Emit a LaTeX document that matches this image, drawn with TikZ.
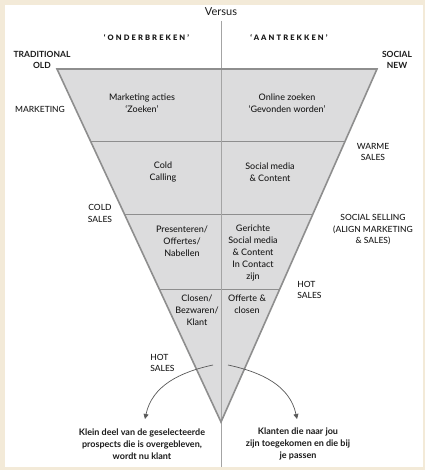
\documentclass[tikz,border=0pt]{standalone}
\usepackage{fontspec}
\setmainfont{Lato}
\newfontfamily\lmed{Lato Medium}
\newfontfamily\lhead{Lato Black}[LetterSpace=28]
\usetikzlibrary{calc,arrows.meta}
\definecolor{beige}{HTML}{F3EAD8}
\definecolor{fillgray}{HTML}{DCDCDD}
\definecolor{edgegray}{HTML}{8E8E8E}
\definecolor{txt}{HTML}{1A1A1A}
\tikzset{
  body/.style={align=center,font=\lmed\fontsize{9}{12}\selectfont,text=txt,inner sep=0pt},
  side/.style={align=center,font=\lmed\fontsize{8.5}{11.5}\selectfont,text=txt,inner sep=0pt},
  sideb/.style={align=center,font=\bfseries\fontsize{8.5}{11.5}\selectfont,text=txt,inner sep=0pt},
  head/.style={font=\lhead\fontsize{7.5}{9}\selectfont,text=txt,inner sep=0pt},
  bottom/.style={align=center,font=\bfseries\fontsize{9}{12}\selectfont,text=txt,inner sep=0pt},
  divider/.style={draw=edgegray,line width=1pt},
  curvearrow/.style={draw=black!65,line width=0.7pt,-{Triangle[length=5pt,width=5pt]}},
}
\begin{document}
\begin{tikzpicture}[x=1pt,y=-1pt]
\useasboundingbox (0,0) rectangle (425,470);
\fill[beige] (0,0) rectangle (425,470);
\fill[white] (5,5) rectangle (423,467);
% funnel
\coordinate (TL) at (57,69);
\coordinate (TR) at (377,69);
\coordinate (A) at (221,422);
\fill[fillgray] (TL) -- (TR) -- (A) -- cycle;
\foreach \t/\n in {0.204/a,0.411/b,0.626/c}{
  \draw[divider] ($(TL)!\t!(A)$) -- ($(TR)!\t!(A)$);
}
\coordinate (VT) at (221,21);
\coordinate (VB) at (221,467);
\draw[edgegray!80,line width=0.8pt] (VT) -- (VB);
\draw[edgegray,line width=1.6pt,line join=miter] (TL) -- (TR) -- (A) -- cycle;
% headers
\node[font=\fontsize{11}{13}\selectfont,text=txt,inner sep=0pt] (versus) at (221,12) {Versus};
\node[head] (onder) at (146.5,38) {‘ONDERBREKEN’};
\node[head] (aan) at (289,38) {‘AANTREKKEN’};
\node[sideb] (trad) at (42,60) {TRADITIONAL\\OLD};
\node[sideb] (soc) at (397,60) {SOCIAL\\NEW};
% side labels
\node[side] (mkt) at (40,109.5) {MARKETING};
\node[side] (warm) at (373,152) {WARME\\SALES};
\node[side] (cold) at (100,213.5) {COLD\\SALES};
\node[side] (ss) at (373,230) {SOCIAL SELLING\\(ALIGN MARKETING\\\& SALES)};
\node[side,align=left] (hotr) at (309.5,290) {HOT\\SALES};
\node[side,align=left] (hotl) at (162.5,363) {HOT\\SALES};
% funnel texts
\node[body] (m1) at (142,103) {Marketing acties\\‘Zoeken’};
\node[body] (m2) at (287,103) {Online zoeken\\‘Gevonden worden’};
\node[body] (c1) at (163,172) {Cold\\Calling};
\node[body] (c2) at (270,172) {Social media\\\& Content};
\node[body] (p1) at (182,241) {Presenteren/\\Offertes/\\Nabellen};
\node[body] (p2) at (253,253) {Gerichte\\Social media\\\& Content\\In Contact\\zijn};
\node[body] (k1) at (197,310) {Closen/\\Bezwaren/\\Klant};
\node[body] (k2) at (247,304) {Offerte \&\\closen};
% bottom texts
\node[bottom] (bl) at (142,444) {Klein deel van de geselecteerde\\prospects die is overgebleven,\\wordt nu klant};
\node[bottom] (br) at (298,444) {Klanten die naar jou\\zijn toegekomen en die bij\\je passen};
% arrows
\coordinate (s1) at (213,365);
\coordinate (e1) at (145,419);
\coordinate (s2) at (228,365);
\coordinate (e2) at (297,419);
\draw[curvearrow] (s1) to[out=192,in=78] (e1);
\draw[curvearrow] (s2) to[out=-12,in=102] (e2);
\end{tikzpicture}
\end{document}
